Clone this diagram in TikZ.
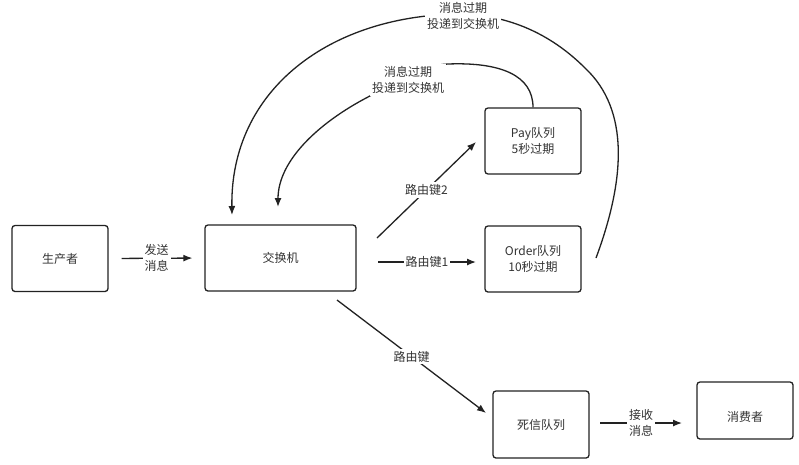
\documentclass[tikz,border=0pt]{standalone}
\usepackage{fontspec}
\setmainfont{Noto Sans CJK SC}
\usetikzlibrary{arrows.meta}
\definecolor{ink}{HTML}{333333}
\definecolor{edge}{HTML}{222222}
\begin{document}
\begin{tikzpicture}[x=1pt,y=-1pt,
  font=\fontsize{12}{16}\selectfont,
  box/.style={draw=edge, line width=1.3pt, rounded corners=3pt, inner sep=0pt,
    text=ink, align=center, minimum width=96pt, minimum height=66pt},
  conn/.style={draw=edge, line width=1.3pt, -{Latex[length=9pt,width=7pt]}},
  lab/.style={fill=white, text=ink, align=center, inner sep=2pt}]
\useasboundingbox[fill=white] (0,0) rectangle (799,464);

% boxes
\node[box] (prod) at (60,258.5) {生产者};
\node[box, minimum width=151pt] (ex) at (280.5,258) {交换机};
\node[box] (pay) at (533,141) {Pay队列\\5秒过期};
\node[box] (order) at (533,259) {Order队列\\10秒过期};
\node[box, minimum height=67pt] (dlq) at (541,424.5) {死信队列};
\node[box, minimum height=57pt] (cons) at (745,410.5) {};
\node[text=ink] (consT) at (745,417) {消费者};

% free ends
\coordinate (r1a) at (378,262);
\coordinate (r1b) at (476,262);
\coordinate (r2a) at (377,238);
\coordinate (r2b) at (476,142);
\coordinate (r3a) at (337,300);
\coordinate (r3b) at (486,413);
\coordinate (rca) at (600,423);
\coordinate (rcb) at (682,423);
\coordinate (in1) at (278,207);
\coordinate (out0) at (596,258);
\coordinate (out1) at (232,215);

% straight connectors
\draw[conn, shorten <=13pt, shorten >=12pt] (prod.east) -- node[lab] (lsend) {发送\\消息} (ex.west);
\draw[conn] (r1a) -- node[lab] (lr1) {路由键1} (r1b);
\draw[conn] (r2a) -- node[lab] (lr2) {路由键2} (r2b);
\draw[conn] (r3a) -- node[lab] (lr3) {路由键} (r3b);
\draw[conn] (rca) -- node[lab] (lrc) {接收\\消息} (rcb);

% inner curve: Pay -> exchange
\draw[conn] (pay.north) .. controls (533,75) and (500,62) .. (448,64)
  .. controls (420,65) and (390,85) .. (368,97)
  .. controls (320,122) and (278,160) .. (in1);
\node[lab] (lin) at (408,80) {消息过期\\投递到交换机};

% outer curve: Order -> exchange
\draw[conn] (out0) .. controls (625,180) and (630,110) .. (585,68)
  .. controls (555,38) and (515,16) .. (463,14)
  .. controls (330,14) and (230,90) .. (out1);
\node[lab] (lout) at (463,16) {消息过期\\投递到交换机};
\end{tikzpicture}
\end{document}
